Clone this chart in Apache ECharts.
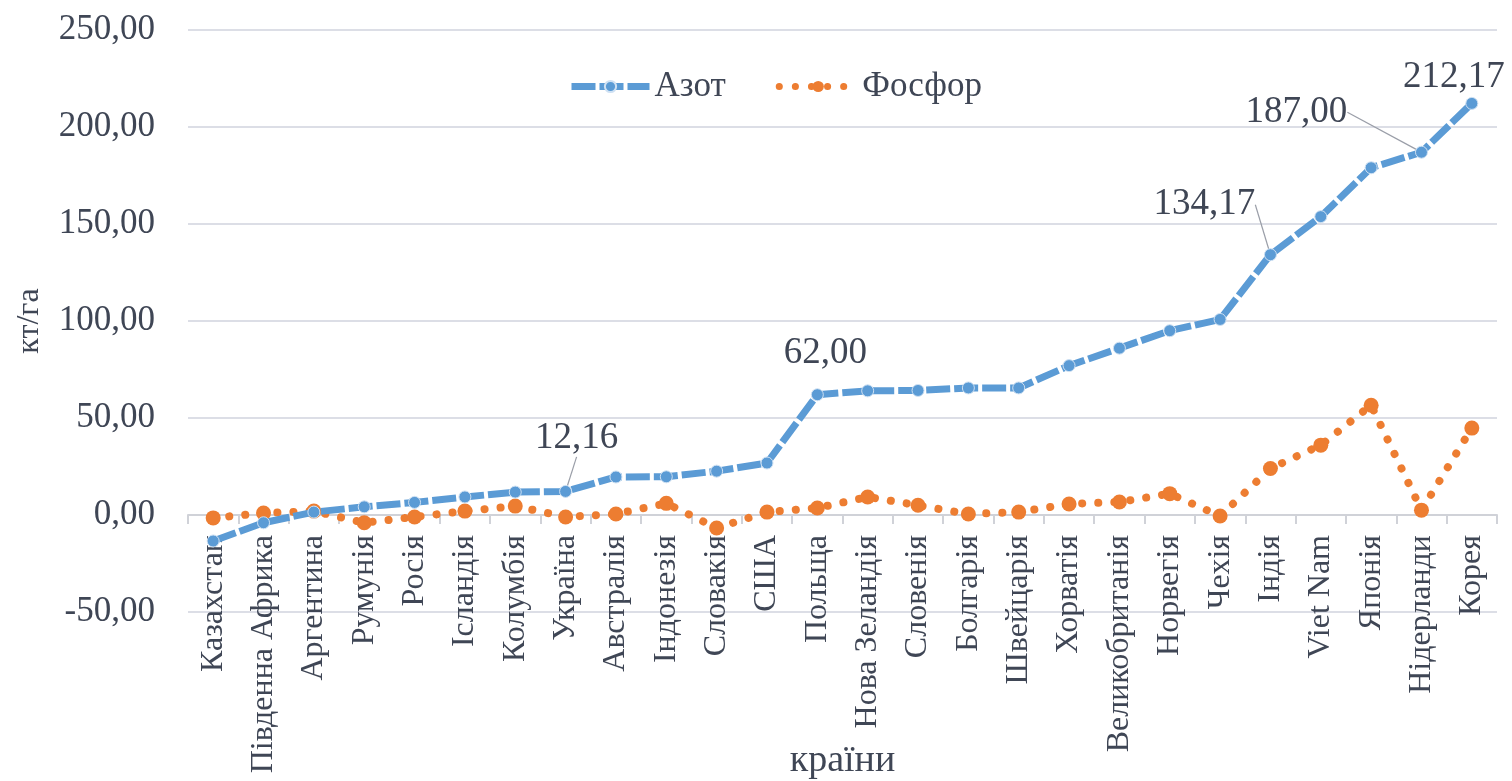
<!DOCTYPE html>
<html>
<head>
<meta charset="utf-8">
<title>Азот і фосфор, кг/га</title>
<script src="https://cdn.jsdelivr.net/npm/echarts@6/dist/echarts.min.js"></script>
<style>
  html, body { margin: 0; padding: 0; background: #ffffff; }
  #chart { width: 1512px; height: 781px; }
</style>
</head>
<body>
<div id="chart"></div>
<script>
// Countries along the horizontal axis
const countries = [
  'Казахстан', 'Південна Африка', 'Аргентина', 'Румунія', 'Росія', 'Ісландія',
  'Колумбія', 'Україна', 'Австралія', 'Індонезія', 'Словакія', 'США',
  'Польща', 'Нова Зеландія', 'Словенія', 'Болгарія', 'Швейцарія', 'Хорватія',
  'Великобританія', 'Норвегія', 'Чехія', 'Індія', 'Viet Nam', 'Японія',
  'Нідерланди', 'Корея'
];

// Nitrogen balance, kg/ha
const nitrogen = [
  -13.4, -4.0, 1.5, 4.2, 6.5, 9.3,
  11.8, 12.16, 19.6, 19.7, 22.6, 26.8,
  62.00, 64.0, 64.2, 65.5, 65.5, 77.0,
  86.0, 95.0, 100.8, 134.17, 153.8, 179.0,
  187.00, 212.17
];

// Phosphorus balance, kg/ha
const phosphorus = [
  -1.5, 1.0, 2.0, -4.0, -1.0, 2.0,
  4.6, -1.0, 0.5, 6.0, -6.7, 1.5,
  3.6, 9.3, 5.0, 0.5, 1.5, 5.7,
  6.7, 11.0, -0.5, 24.0, 36.0, 56.6,
  2.5, 44.8
];

// Value axis ticks
const yTicks = [-50, 0, 50, 100, 150, 200, 250];

// Countries whose nitrogen value is written on the chart
const labelledCountries = ['Україна', 'Польща', 'Індія', 'Нідерланди', 'Корея'];

// Where each value label sits relative to its default spot, and whether it gets a leader line
const labelPlacement = {
  'Україна':    { dx: 11,   dy: -23, line: true },
  'Польща':     { dx: 8,    dy: -11, line: false },
  'Індія':      { dx: -66,  dy: -20, line: true },
  'Нідерланди': { dx: -125, dy: -10, line: true },
  'Корея':      { dx: -18,  dy: 4,   line: false }
};

const FONT = '"Liberation Serif", "Times New Roman", serif';
const TEXT = '#3f4655';
const BLUE = '#5b9bd5';
const ORANGE = '#ed7d31';

const CHART_H = 781;
const GRID = { left: 188, right: 15, top: 30, bottom: 169 };

const fmt = v => Number(v).toFixed(2).replace('.', ',');

// The category axis runs along the zero line: shift it up from the grid bottom
const yMin = yTicks[0];
const yMax = yTicks[yTicks.length - 1];
const gridHeight = CHART_H - GRID.top - GRID.bottom;
const zeroShift = gridHeight * (0 - yMin) / (yMax - yMin);

const nitrogenData = nitrogen.map((v, i) => {
  const name = countries[i];
  if (!labelledCountries.includes(name)) return v;
  return {
    value: v,
    label: { show: true },
    labelLine: { show: labelPlacement[name].line }
  };
});

const chart = echarts.init(document.getElementById('chart'), null, { renderer: 'canvas' });

chart.setOption({
  backgroundColor: '#ffffff',
  animation: false,
  textStyle: { fontFamily: FONT, color: TEXT },
  legend: {
    top: 64,
    left: 563,
    itemWidth: 78,
    itemHeight: 14,
    itemGap: 50,
    lineStyle: { width: 7 },
    textStyle: { fontFamily: FONT, fontSize: 35, color: TEXT },
    data: ['Азот', 'Фосфор']
  },
  grid: Object.assign({ outerBoundsMode: 'none', containLabel: false }, GRID),
  xAxis: {
    type: 'category',
    data: countries,
    boundaryGap: true,
    offset: -zeroShift,
    name: 'країни',
    nameLocation: 'middle',
    nameGap: 227,
    nameMoveOverlap: false,
    nameTextStyle: { fontFamily: FONT, fontSize: 38, color: TEXT },
    axisLine: { onZero: false, lineStyle: { color: '#d0d2d8', width: 2 } },
    axisTick: { show: true, length: 9, lineStyle: { color: '#d0d2d8', width: 2 } },
    axisLabel: {
      rotate: 90,
      interval: 0,
      margin: 20,
      fontFamily: FONT,
      fontSize: 32,
      color: TEXT
    },
    splitLine: { show: false }
  },
  yAxis: {
    type: 'value',
    min: yMin,
    max: yMax,
    interval: 50,
    name: 'кт/га',
    nameLocation: 'middle',
    nameGap: 142,
    nameMoveOverlap: false,
    nameRotate: 90,
    nameTextStyle: { fontFamily: FONT, fontSize: 32, color: TEXT },
    axisLine: { show: false },
    axisTick: { show: false },
    axisLabel: {
      margin: 33,
      fontFamily: FONT,
      fontSize: 35,
      color: TEXT,
      formatter: v => fmt(v)
    },
    splitLine: { lineStyle: { color: '#dcdee6', width: 2 } }
  },
  series: [
    {
      name: 'Азот',
      type: 'line',
      data: nitrogenData,
      symbol: 'circle',
      symbolSize: 12,
      z: 3,
      itemStyle: { color: BLUE, borderColor: '#cfe1f3', borderWidth: 1 },
      lineStyle: { color: BLUE, width: 7, type: [24, 4], cap: 'butt' },
      label: {
        show: false,
        position: 'top',
        fontFamily: FONT,
        fontSize: 37,
        color: TEXT,
        formatter: p => fmt(p.value)
      },
      labelLine: { show: true, lineStyle: { color: '#9a9ea8', width: 1.2 } },
      labelLayout: params => {
        const name = countries[params.dataIndex];
        const p = labelPlacement[name];
        return p ? { dx: p.dx, dy: p.dy } : {};
      }
    },
    {
      name: 'Фосфор',
      type: 'line',
      data: phosphorus,
      symbol: 'circle',
      symbolSize: 15,
      z: 2,
      itemStyle: { color: ORANGE },
      lineStyle: { color: ORANGE, width: 8, type: [0.1, 16], cap: 'round' }
    }
  ]
});
</script>
</body>
</html>
